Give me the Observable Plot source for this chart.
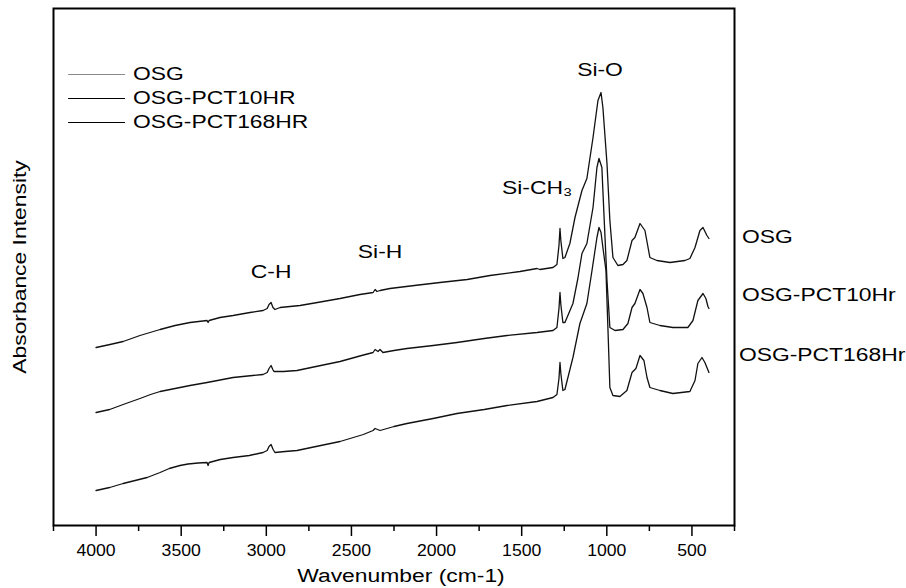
<!DOCTYPE html>
<html>
<head>
<meta charset="utf-8">
<script src="https://cdn.jsdelivr.net/npm/d3@7"></script>
<script src="https://cdn.jsdelivr.net/npm/@observablehq/plot@0.6"></script>
<style>
  html, body { margin: 0; padding: 0; background: #fff; }
  svg { display: block; }
</style>
</head>
<body>
<script>
// ---- Data (wavenumber cm-1, absorbance a.u.) ----
const seriesNames = ["OSG", "OSG-PCT10HR", "OSG-PCT168HR"];

const osg = [[4000,1.78],[3918,1.81],[3841,1.84],[3742,1.90],[3683,1.93],[3624,1.96],[3536,2.00],[3448,2.03],[3348,2.05],[3342,2.03],[3336,2.05],[3272,2.08],[3195,2.10],[3096,2.13],[3019,2.15],[2995,2.17],[2984,2.21],[2972,2.23],[2961,2.18],[2949,2.16],[2919,2.18],[2802,2.20],[2700,2.23],[2567,2.27],[2450,2.31],[2373,2.33],[2361,2.36],[2350,2.34],[2332,2.35],[2274,2.37],[2130,2.40],[1980,2.43],[1820,2.46],[1686,2.50],[1510,2.54],[1410,2.57],[1393,2.56],[1316,2.58],[1293,2.61],[1281,2.80],[1275,2.97],[1270,2.85],[1258,2.67],[1246,2.68],[1217,2.82],[1187,3.08],[1146,3.35],[1117,3.47],[1081,3.88],[1052,4.25],[1034,4.33],[1023,4.18],[999,3.62],[982,3.05],[964,2.68],[935,2.60],[905,2.61],[882,2.65],[852,2.85],[835,2.88],[805,3.02],[776,2.95],[747,2.68],[706,2.65],[629,2.63],[541,2.65],[512,2.67],[482,2.78],[453,2.95],[435,2.98],[412,2.90],[400,2.87]];

const pct10 = [[4000,1.13],[3920,1.16],[3841,1.21],[3742,1.27],[3680,1.31],[3624,1.34],[3536,1.37],[3448,1.40],[3348,1.43],[3195,1.48],[3080,1.50],[3019,1.51],[2995,1.53],[2984,1.57],[2972,1.60],[2962,1.56],[2955,1.54],[2900,1.54],[2820,1.55],[2680,1.60],[2567,1.64],[2440,1.70],[2373,1.73],[2361,1.76],[2344,1.74],[2332,1.76],[2315,1.73],[2250,1.75],[2174,1.77],[2020,1.80],[1880,1.83],[1720,1.87],[1586,1.90],[1410,1.93],[1316,1.95],[1293,1.98],[1281,2.17],[1275,2.33],[1270,2.21],[1258,2.03],[1246,2.03],[1199,2.22],[1170,2.47],[1146,2.72],[1117,2.82],[1081,3.18],[1058,3.58],[1046,3.67],[1029,3.58],[1017,3.12],[999,2.45],[982,1.98],[952,1.95],[905,1.96],[876,2.02],[852,2.18],[835,2.22],[805,2.36],[788,2.32],[764,2.18],[747,2.03],[688,2.00],[612,1.98],[524,1.98],[494,2.05],[465,2.25],[435,2.32],[418,2.27],[406,2.19],[400,2.17]];

const pct168 = [[4000,0.35],[3920,0.38],[3841,0.42],[3700,0.48],[3624,0.53],[3570,0.57],[3507,0.60],[3460,0.615],[3400,0.625],[3348,0.63],[3342,0.60],[3336,0.63],[3270,0.66],[3195,0.68],[3100,0.70],[3019,0.73],[2995,0.75],[2984,0.79],[2972,0.81],[2960,0.76],[2949,0.73],[2890,0.74],[2820,0.75],[2680,0.80],[2567,0.84],[2430,0.91],[2373,0.95],[2361,0.97],[2332,0.95],[2250,0.99],[2174,1.02],[2020,1.07],[1880,1.12],[1720,1.16],[1586,1.20],[1410,1.24],[1316,1.28],[1293,1.31],[1281,1.47],[1275,1.63],[1270,1.52],[1258,1.35],[1246,1.36],[1199,1.68],[1158,2.02],[1117,2.22],[1087,2.55],[1058,2.88],[1046,2.98],[1034,2.93],[1023,2.78],[1005,2.55],[993,1.95],[982,1.38],[964,1.30],[923,1.29],[882,1.35],[852,1.53],[829,1.57],[805,1.70],[782,1.65],[764,1.48],[747,1.38],[688,1.35],[612,1.32],[512,1.34],[482,1.45],[465,1.62],[441,1.68],[424,1.63],[400,1.53]];

const majorTicks = [4000, 3500, 3000, 2500, 2000, 1500, 1000, 500];
const minorTicks = [4250, 3750, 3250, 2750, 2250, 1750, 1250, 750, 250];

// peak annotations: [label, wavenumber, absorbance]
const peakLabels = [["Si-O", 1040, 4.55], ["C-H", 2972, 2.53], ["Si-H", 2332, 2.73]];
const ch3Label = [["Si-CH\u2083", 1616, 3.37]];
// right-side curve labels: [label, wavenumber, absorbance]
const sideLabels = [["OSG", 206, 2.885], ["OSG-PCT10Hr", 206, 2.30], ["OSG-PCT168Hr", 224, 1.70]];
// legend rows: [name, absorbance row, colour]
const legendRows = [["OSG", 4.51, "#8a8a8a"], ["OSG-PCT10HR", 4.27, "#000"], ["OSG-PCT168HR", 4.03, "#000"]];

const toRows = (arr, name) => arr.map(([w, a]) => ({w, a, name}));
const rows = [...toRows(osg, seriesNames[0]), ...toRows(pct10, seriesNames[1]), ...toRows(pct168, seriesNames[2])];

const font = "Liberation Sans, Arial, sans-serif";

const chart = Plot.plot({
  width: 906,
  height: 588,
  marginLeft: 53,
  marginRight: 172,
  marginTop: 8,
  marginBottom: 63,
  style: {fontFamily: font, background: "#fff", color: "#000"},
  x: {domain: [4250, 250]},
  y: {domain: [0, 5.17], axis: null},
  marks: [
    Plot.line(rows, {x: "w", y: "a", z: "name", stroke: "#111", strokeWidth: 1.3, curve: "linear"}),
    Plot.axisX({ticks: minorTicks, tickSize: 6, tickFormat: () => "", strokeWidth: 1.5, label: null}),
    Plot.axisX({ticks: majorTicks, tickSize: 11, tickPadding: 8, tickFormat: "d", fontSize: 16, strokeWidth: 1.5, label: null}),
    Plot.frame({stroke: "#000", strokeWidth: 2}),
    Plot.text(peakLabels, {x: d => d[1], y: d => d[2], text: d => d[0], fontSize: 18, textAnchor: "middle"}),
    Plot.text(ch3Label, {x: d => d[1], y: d => d[2], text: d => d[0], fontSize: 18, textAnchor: "start"}),
    Plot.text(sideLabels, {x: d => d[1], y: d => d[2], text: d => d[0], fontSize: 18, textAnchor: "start"}),
    Plot.link(legendRows, {x1: 4164, x2: 3830, y1: d => d[1], y2: d => d[1], stroke: d => d[2], strokeWidth: 1.2}),
    Plot.text(legendRows, {x: 3783, y: d => d[1], text: d => d[0], fontSize: 18, textAnchor: "start"}),
    Plot.text(["Wavenumber (cm-1)"], {frameAnchor: "bottom", dx: 7, dy: 56, fontSize: 18, textAnchor: "middle"}),
    Plot.text(["Absorbance Intensity"], {frameAnchor: "left", dx: -33, rotate: -90, fontSize: 18, textAnchor: "middle"})
  ]
});

document.body.append(chart);

// the reference's lettering is horizontally wider than Arial: stretch glyphs
chart.querySelectorAll("text").forEach(t => {
  const isTick = t.closest('g[aria-label="x-axis tick label"]');
  const f = isTick ? 1.1 : 1.27;
  const L = t.getComputedTextLength();
  if (L > 0) {
    t.setAttribute("textLength", (L * f).toFixed(1));
    t.setAttribute("lengthAdjust", "spacingAndGlyphs");
  }
});
</script>
</body>
</html>
